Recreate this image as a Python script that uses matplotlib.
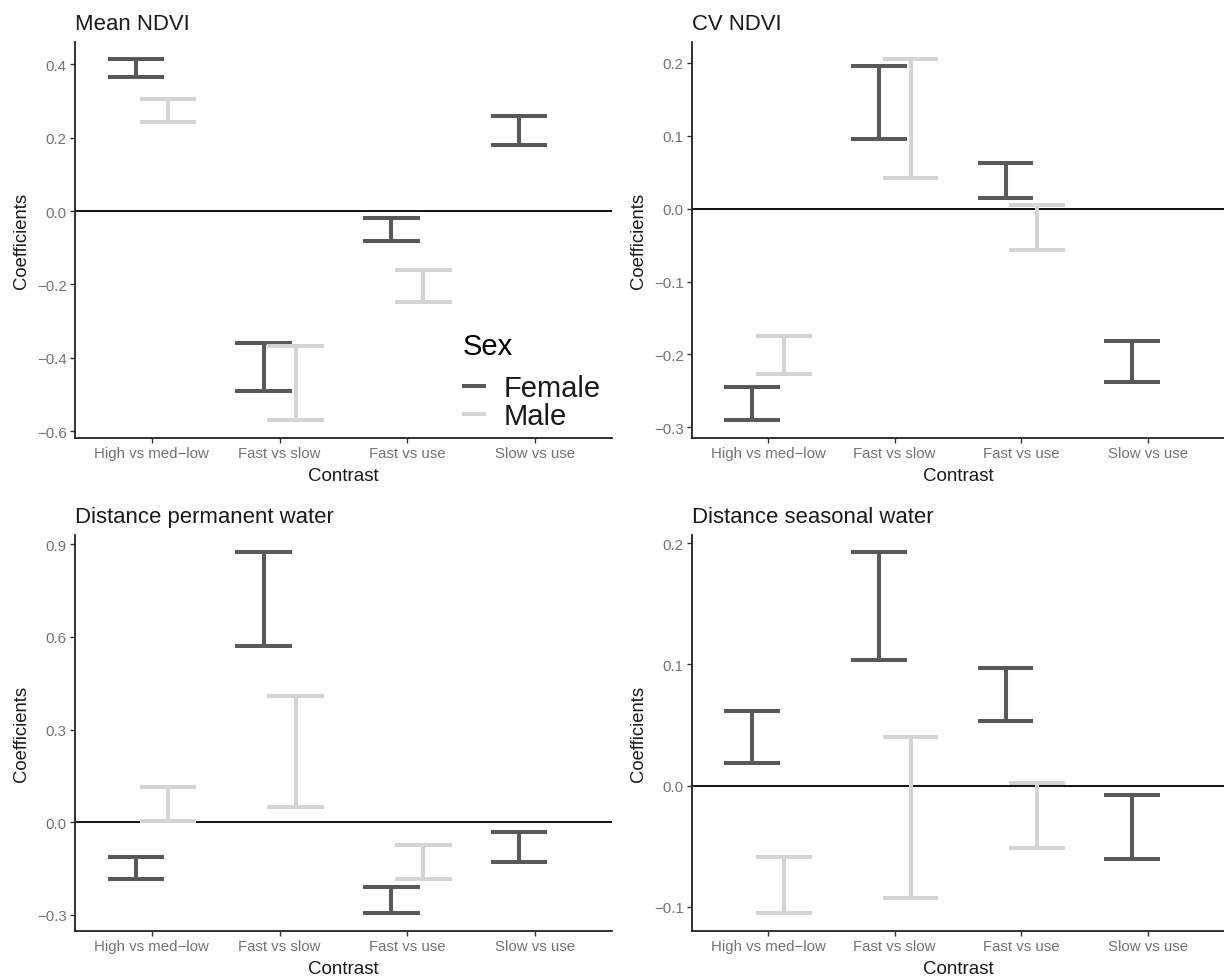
import numpy as np
import matplotlib.pyplot as plt
from matplotlib.lines import Line2D
from matplotlib.ticker import FuncFormatter

plt.rcParams['font.family'] = ['Liberation Sans', 'DejaVu Sans']

contrasts = ['High vs med\u2212low', 'Fast vs slow', 'Fast vs use', 'Slow vs use']
sexes = ['Female', 'Male']

# (lower, upper) confidence limits per contrast, per sex
mean_ndvi_female_lo = [0.365, -0.492, -0.081, 0.180]
mean_ndvi_female_hi = [0.415, -0.360, -0.019, 0.259]
mean_ndvi_male_lo = [0.244, -0.571, -0.247, np.nan]
mean_ndvi_male_hi = [0.305, -0.368, -0.161, np.nan]

cv_ndvi_female_lo = [-0.290, 0.0955, 0.015, -0.238]
cv_ndvi_female_hi = [-0.244, 0.196, 0.063, -0.181]
cv_ndvi_male_lo = [-0.227, 0.0416, -0.057, np.nan]
cv_ndvi_male_hi = [-0.174, 0.205, 0.0055, np.nan]

perm_female_lo = [-0.183, 0.572, -0.294, -0.130]
perm_female_hi = [-0.113, 0.875, -0.208, -0.033]
perm_male_lo = [0.004, 0.050, -0.184, np.nan]
perm_male_hi = [0.113, 0.409, -0.072, np.nan]

seas_female_lo = [0.0187, 0.1032, 0.0533, -0.0604]
seas_female_hi = [0.0612, 0.1924, 0.0966, -0.008]
seas_male_lo = [-0.105, -0.0928, -0.0513, np.nan]
seas_male_hi = [-0.059, 0.040, 0.0019, np.nan]

panels = [
    ('Mean NDVI', mean_ndvi_female_lo, mean_ndvi_female_hi, mean_ndvi_male_lo, mean_ndvi_male_hi,
     [-0.6, -0.4, -0.2, 0.0, 0.2, 0.4], (-0.619, 0.461)),
    ('CV NDVI', cv_ndvi_female_lo, cv_ndvi_female_hi, cv_ndvi_male_lo, cv_ndvi_male_hi,
     [-0.3, -0.2, -0.1, 0.0, 0.1, 0.2], (-0.3145, 0.2285)),
    ('Distance permanent water', perm_female_lo, perm_female_hi, perm_male_lo, perm_male_hi,
     [-0.3, 0.0, 0.3, 0.6, 0.9], (-0.352, 0.930)),
    ('Distance seasonal water', seas_female_lo, seas_female_hi, seas_male_lo, seas_male_hi,
     [-0.1, 0.0, 0.1, 0.2], (-0.12, 0.2067)),
]

colors = {'Female': '#595959', 'Male': '#d4d4d4'}
dodge = 0.125
half_cap = 0.22
lw = 2.9

W, H = 1224, 978
fig = plt.figure(figsize=(W / 100, H / 100), dpi=100)
boxes = [(75, 612, 43, 439), (692, 1224, 43, 439), (75, 612, 536, 932), (692, 1224, 536, 932)]

fmt = FuncFormatter(lambda v, p: f'{v:.1f}'.replace('-', '\u2212'))

for (title, flo, fhi, mlo, mhi, yticks, ylim), (x0, x1, y0, y1) in zip(panels, boxes):
    ax = fig.add_axes([x0 / W, 1 - y1 / H, (x1 - x0) / W, (y1 - y0) / H])
    ax.axhline(0, color='black', lw=1.3, zorder=1)
    xs = np.arange(1, len(contrasts) + 1)
    for sex, lo, hi, off in [('Female', flo, fhi, -dodge), ('Male', mlo, mhi, dodge)]:
        lo = np.array(lo)
        hi = np.array(hi)
        x = xs + off
        ax.vlines(x, lo, hi, color=colors[sex], lw=lw, capstyle='butt', zorder=2)
        ax.hlines(lo, x - half_cap, x + half_cap, color=colors[sex], lw=lw, capstyle='butt', zorder=2)
        ax.hlines(hi, x - half_cap, x + half_cap, color=colors[sex], lw=lw, capstyle='butt', zorder=2)
    ax.set_xlim(0.4, 4.6)
    ax.set_ylim(*ylim)
    ax.set_xticks(xs)
    ax.set_xticklabels(contrasts)
    ax.set_yticks(yticks)
    ax.yaxis.set_major_formatter(fmt)
    for s in ['top', 'right']:
        ax.spines[s].set_visible(False)
    for s in ['left', 'bottom']:
        ax.spines[s].set_linewidth(1.3)
        ax.spines[s].set_color('#222222')
    ax.tick_params(length=3.5, width=1, color='#333333', labelcolor='#737373', labelsize=10.8, pad=2.5)
    ax.set_xlabel('Contrast', fontsize=13.5, color='#1a1a1a', labelpad=4.5)
    ax.set_ylabel('Coefficients', fontsize=13.3, color='#1a1a1a', labelpad=5)
    ax.set_title(title, loc='left', fontsize=15.9, color='#1a1a1a', pad=9.5)

handles = [Line2D([], [], color=colors[s], lw=lw, solid_capstyle='butt') for s in sexes]
leg = fig.legend(handles, sexes, title='Sex', loc='upper left', bbox_to_anchor=(447 / W, 1 - 318 / H),
                 frameon=False, fontsize=21, title_fontsize=21, handlelength=0.8,
                 handletextpad=0.6, labelspacing=0.0, borderpad=0.53, borderaxespad=0.0,
                 alignment='left')
leg._legend_box.sep = 10
for t in leg.get_texts():
    t.set_color('#1a1a1a')

fig.savefig('out.png', dpi=100)
